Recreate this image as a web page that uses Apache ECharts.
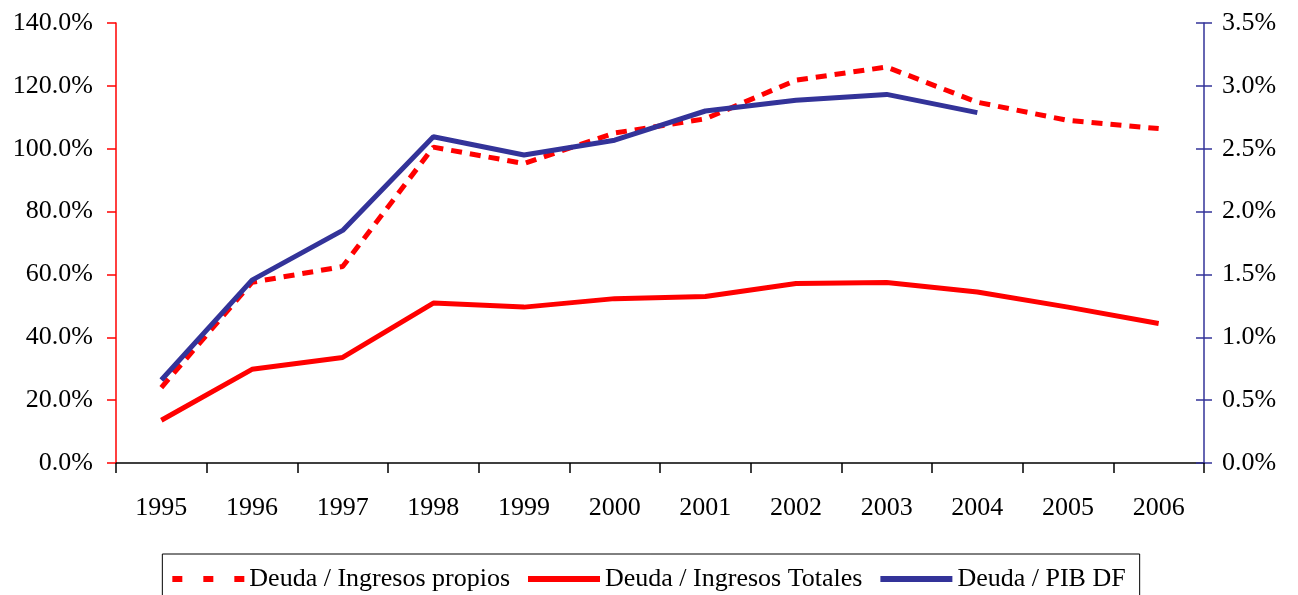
<!DOCTYPE html>
<html>
<head>
<meta charset="utf-8">
<script src="https://cdn.jsdelivr.net/npm/echarts@6/dist/echarts.min.js"></script>
<style>
  html, body { margin: 0; padding: 0; background: #fff; }
  #chart { width: 1298px; height: 595px; }
</style>
</head>
<body>
<div id="chart"></div>
<script>
// años
var years = ['1995','1996','1997','1998','1999','2000','2001','2002','2003','2004','2005','2006'];
// eje izquierdo (%)
var deudaIngPropios = [24.0, 57.5, 62.5, 100.5, 95.3, 105.0, 109.5, 121.8, 126.0, 114.8, 109.0, 106.4];
var deudaIngTotales = [13.6, 29.8, 33.6, 50.9, 49.6, 52.3, 53.0, 57.1, 57.4, 54.4, 49.6, 44.4];
// eje derecho (%)
var deudaPib = [0.66, 1.455, 1.85, 2.595, 2.45, 2.568, 2.80, 2.885, 2.932, 2.787, null, null];

var serif = '"Liberation Serif", "DejaVu Serif", serif';
var red = '#ff0000';
var blue = '#333399';
// iconos de leyenda: tres trazos / barra llena
var dashIcon = 'path://M0,0h10v6h-10z M31,0h10v6h-10z M62,0h10v6h-10z';
var barIcon = 'path://M0,0h72v6h-72z';

var chart = echarts.init(document.getElementById('chart'));

var option = {
    animation: false,
    textStyle: { fontFamily: serif },
    grid: { left: 116, right: 94, top: 23, bottom: 132 },
    legend: {
        bottom: -19,
        left: 'center',
        borderColor: '#000',
        borderWidth: 1,
        borderRadius: 0,
        padding: [12, 14, 22, 10],
        itemGap: 18,
        itemWidth: 72,
        itemHeight: 6,
        textStyle: { fontFamily: serif, fontSize: 26, color: '#000' },
        data: [
            { name: 'Deuda / Ingresos propios', icon: dashIcon, itemStyle: { color: red } },
            { name: 'Deuda / Ingresos Totales', icon: barIcon, itemStyle: { color: red } },
            { name: 'Deuda / PIB DF', icon: barIcon, itemStyle: { color: blue } }
        ]
    },
    xAxis: {
        type: 'category',
        data: years,
        boundaryGap: true,
        axisLine: { lineStyle: { color: '#000', width: 1.5 } },
        axisTick: { show: true, length: 10, lineStyle: { color: '#000', width: 1.5 } },
        axisLabel: { color: '#000', fontSize: 26, fontFamily: serif, margin: 32 }
    },
    yAxis: [
        {
            type: 'value', min: 0, max: 140, interval: 20, position: 'left',
            axisLine: { show: true, lineStyle: { color: red, width: 1.5 } },
            axisTick: { show: true, length: 9, lineStyle: { color: red, width: 1.5 } },
            splitLine: { show: false },
            axisLabel: {
                color: '#000', fontSize: 26, fontFamily: serif, margin: 23,
                formatter: function (v) { return v.toFixed(1) + '%'; }
            }
        },
        {
            type: 'value', min: 0, max: 3.5, interval: 0.5, position: 'right',
            axisLine: { show: true, lineStyle: { color: blue, width: 1.5 } },
            axisTick: { show: true, length: 8, lineStyle: { color: blue, width: 1.5 } },
            splitLine: { show: false },
            axisLabel: {
                color: '#000', fontSize: 26, fontFamily: serif, margin: 18,
                formatter: function (v) { return v.toFixed(1) + '%'; }
            }
        },
        {
            // marcas hacia dentro del eje derecho
            type: 'value', min: 0, max: 3.5, interval: 0.5, position: 'right',
            axisLine: { show: false },
            axisTick: { show: true, inside: true, length: 8, lineStyle: { color: blue, width: 1.5 } },
            splitLine: { show: false },
            axisLabel: { show: false }
        }
    ],
    series: [
        {
            name: 'Deuda / Ingresos propios',
            type: 'line',
            yAxisIndex: 0,
            data: deudaIngPropios,
            symbol: 'none',
            itemStyle: { color: red },
            lineStyle: { color: red, width: 5, type: [11, 8] }
        },
        {
            name: 'Deuda / Ingresos Totales',
            type: 'line',
            yAxisIndex: 0,
            data: deudaIngTotales,
            symbol: 'none',
            itemStyle: { color: red },
            lineStyle: { color: red, width: 5 }
        },
        {
            name: 'Deuda / PIB DF',
            type: 'line',
            yAxisIndex: 1,
            data: deudaPib,
            symbol: 'none',
            connectNulls: false,
            itemStyle: { color: blue },
            lineStyle: { color: blue, width: 5 }
        }
    ]
};

chart.setOption(option);
</script>
</body>
</html>
